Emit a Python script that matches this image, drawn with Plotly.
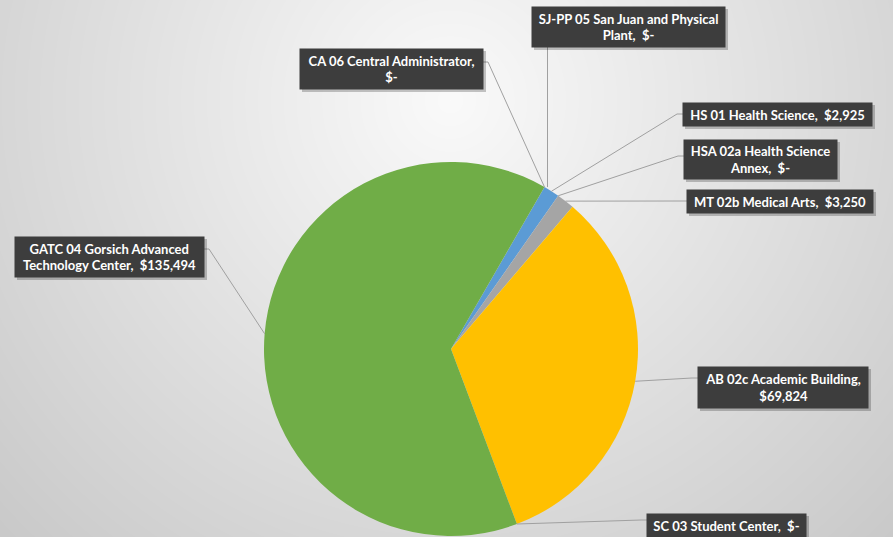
import base64, struct, zlib
import numpy as np
import plotly.graph_objects as go

# ---- data ----
labels = ["HS 01 Health Science", "HSA 02a Health Science Annex", "MT 02b Medical Arts",
          "AB 02c Academic Building", "SC 03 Student Center",
          "GATC 04 Gorsich Advanced Technology Center", "SJ-PP 05 San Juan and Physical Plant",
          "CA 06 Central Administrator"]
values = [2925, 0, 3250, 69824, 0, 135494, 0, 0]
label_text = ["HS 01 Health Science,  $2,925",
              "HSA 02a Health Science<br>Annex,  $-",
              "MT 02b Medical Arts,  $3,250",
              "AB 02c Academic Building,<br>$69,824",
              "SC 03 Student Center,  $-",
              "GATC 04 Gorsich Advanced<br>Technology Center,  $135,494",
              "SJ-PP 05 San Juan and Physical<br>Plant,  $-",
              "CA 06 Central Administrator,<br>$-"]
colors = ["#5B9BD5", "#ED7D31", "#A5A5A5", "#FFC000", "#4472C4", "#70AD47", "#255E91", "#9E480E"]

W, H = 893, 537
ROT = 30
CX, CY, R = 451, 349, 187

# ---- background radial gradient as PNG ----
yy, xx = np.mgrid[0:H, 0:W]
d = np.sqrt((xx - 450) ** 2 + (yy - 100) ** 2)
v = np.clip(250 - 0.078 * d, 0, 255).astype(np.uint8)
raw = b"".join(b"\x00" + v[r].tobytes() for r in range(H))
def chunk(t, data):
    c = struct.pack(">I", len(data)) + t + data
    return c + struct.pack(">I", zlib.crc32(t + data) & 0xFFFFFFFF)
png = (b"\x89PNG\r\n\x1a\n" + chunk(b"IHDR", struct.pack(">IIBBBBB", W, H, 8, 0, 0, 0, 0))
       + chunk(b"IDAT", zlib.compress(raw, 9)) + chunk(b"IEND", b""))
bg_uri = "data:image/png;base64," + base64.b64encode(png).decode()

fig = go.Figure(go.Pie(
    labels=labels, values=values, sort=False, direction="clockwise", rotation=ROT,
    marker=dict(colors=colors, line=dict(width=0)), textinfo="none",
    domain=dict(x=[(CX - R) / W, (CX + R) / W], y=[1 - (CY + R) / H, 1 - (CY - R) / H]),
    showlegend=False, hoverinfo="label+value"))

# label boxes (pixel layout): x0, y0, x1, y1, side of leader ('l','r','b'), leader y
boxes = [
    (683, 103, 872, 126, "l", 114),
    (684, 140, 837, 179, "l", 156),
    (687, 190, 873, 213, "l", 201),
    (698, 367, 868, 408, "l", 378),
    (647, 514, 806, 538, "l", 520),
    (15, 237, 204, 277, "r", 249),
    (532, 7, 725, 47, "b", 47),
    (300, 49, 483, 89, "r", 62),
]

def px(x): return x / W
def py(y): return 1 - y / H

total = sum(values)
cum = 0
shapes, annots = [], []
for i, val in enumerate(values):
    mid = ROT + 360 * (cum + val / 2) / total
    cum += val
    a = np.radians(mid)
    ex, ey = CX + R * np.sin(a), CY - R * np.cos(a)
    x0, y0, x1, y1, side, ly = boxes[i]
    if side == "l":
        path = f"M {px(x0)},{py(ly)} L {px(x0-6)},{py(ly)} L {px(ex)},{py(ey)}"
    elif side == "r":
        path = f"M {px(x1)},{py(ly)} L {px(x1+5)},{py(ly)} L {px(ex)},{py(ey)}"
    else:
        path = f"M {px(ex+3)},{py(ly)} L {px(ex+3)},{py(ey)}"
    shapes.append(dict(type="path", path=path, xref="paper", yref="paper",
                       line=dict(color="#a0a0a0", width=1)))
    shapes.append(dict(type="rect", xref="paper", yref="paper", x0=px(x0 + 2), x1=px(x1 + 3),
                       y0=py(y0 + 2), y1=py(y1 + 3), fillcolor="rgba(0,0,0,0.22)", line=dict(width=0)))
    annots.append(dict(x=px((x0 + x1) / 2), y=py((y0 + y1) / 2), xref="paper", yref="paper",
                       xanchor="center", yanchor="middle", showarrow=False, text=label_text[i],
                       width=x1 - x0 - 4, height=y1 - y0 - 4, borderpad=2, bgcolor="#3d3d3d",
                       font=dict(family="Lato, Liberation Sans, sans-serif",
                                 size=13, color="white", weight="bold")))

fig.update_layout(
    width=W, height=H, margin=dict(l=0, r=0, t=0, b=0),
    paper_bgcolor="#e0e0e0", plot_bgcolor="rgba(0,0,0,0)",
    images=[dict(source=bg_uri, xref="paper", yref="paper", x=0, y=1, sizex=1, sizey=1,
                 sizing="stretch", xanchor="left", yanchor="top", layer="below")],
    shapes=shapes, annotations=annots)

fig.write_html("out.html", config={"displayModeBar": False},
               post_script="document.body.style.margin='0px';document.body.style.overflow='hidden';")
